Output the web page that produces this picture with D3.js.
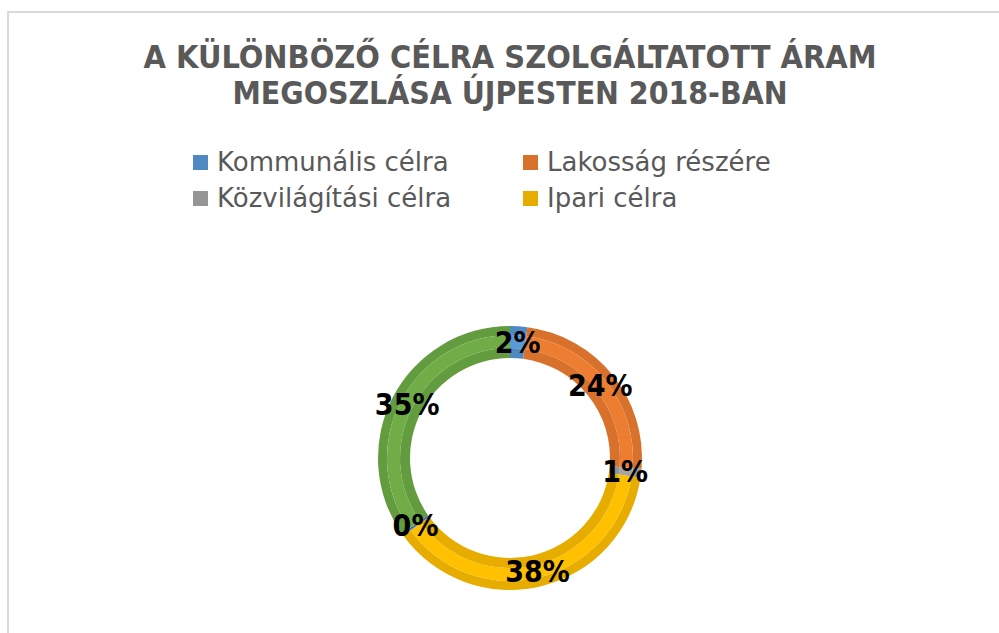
<!DOCTYPE html>
<html>
<head>
<meta charset="utf-8" />
<title>Áram megoszlása</title>
<script src="https://cdn.jsdelivr.net/npm/d3@7"></script>
<style>
  body { margin: 0; background: #fff; }
</style>
</head>
<body>
<script>
  // adatok
  var categories = ['Kommunális célra', 'Lakosság részére', 'Közvilágítási célra', 'Ipari célra', 'Egyéb célra', 'Egyéb fogyasztók'];
  var values = [2.1, 24.2, 1.1, 37.6, 0.3, 34.7];
  var lightColors = ['#5b9bd5', '#ed7d31', '#a5a5a5', '#ffc000', '#4472c4', '#70ad47'];
  var darkColors = ['#4f89c1', '#d8712c', '#959595', '#e6ac00', '#3d66b0', '#639c3f'];
  var legendItems = [0, 1, 2, 3]; // csak ennyi fér ki a jelmagyarázatba
  var titleLines = ['A KÜLÖNBÖZŐ CÉLRA SZOLGÁLTATOTT ÁRAM', 'MEGOSZLÁSA ÚJPESTEN 2018-BAN'];

  var width = 999, height = 633;
  var svg = d3.select('body').append('svg').attr('width', width).attr('height', height);

  // keret
  svg.append('rect').attr('x', 8).attr('y', 12).attr('width', 1010).attr('height', 650)
    .attr('fill', '#fff').attr('stroke', '#d9d9d9').attr('stroke-width', 2);

  // cím
  var titleWidths = [733, 555];
  svg.selectAll('text.title').data(titleLines).enter().append('text')
    .attr('class', 'title')
    .attr('x', 510)
    .attr('y', function(d, i) { return 68 + i * 36; })
    .attr('text-anchor', 'middle')
    .attr('font-family', 'DejaVu Sans Condensed, DejaVu Sans')
    .attr('font-weight', 'bold')
    .attr('font-size', 32)
    .attr('fill', '#595959')
    .attr('textLength', function(d, i) { return titleWidths[i]; })
    .attr('lengthAdjust', 'spacingAndGlyphs')
    .text(function(d) { return d; });

  // jelmagyarázat
  var legendX = d3.scaleOrdinal().domain([0, 1]).range([193, 523]);
  var legendY = d3.scaleOrdinal().domain([0, 1]).range([155, 191]);
  var legend = svg.selectAll('g.legend').data(legendItems).enter().append('g')
    .attr('class', 'legend')
    .attr('transform', function(d, i) {
      return 'translate(' + legendX(i % 2) + ',' + legendY(Math.floor(i / 2)) + ')';
    });
  legend.append('rect').attr('width', 15).attr('height', 15)
    .attr('fill', function(d) { return darkColors[d]; });
  legend.append('text')
    .attr('x', 24).attr('y', 16)
    .attr('font-family', 'DejaVu Sans')
    .attr('font-size', 26)
    .attr('fill', '#595959')
    .text(function(d) { return categories[d]; });

  // gyűrű
  var cx = 510, cy = 458;
  var rOuter = 132, rInner = 100;
  var pie = d3.pie().sort(null).value(function(d) { return d; });
  var arcs = pie(values);
  var g = svg.append('g').attr('transform', 'translate(' + cx + ',' + cy + ')');

  var bands = [
    { r0: 123, r1: rOuter, dark: true },
    { r0: 110, r1: 123, dark: false },
    { r0: rInner, r1: 110, dark: true }
  ];
  bands.forEach(function(b) {
    var arc = d3.arc().innerRadius(b.r0).outerRadius(b.r1);
    g.selectAll(null).data(arcs).enter().append('path')
      .attr('d', arc)
      .attr('fill', function(d, i) { return b.dark ? darkColors[i] : lightColors[i]; });
  });

  // címkék
  var labelArc = d3.arc().innerRadius((rOuter + rInner) / 2).outerRadius((rOuter + rInner) / 2);
  var fmt = d3.format('.0f');
  var total = d3.sum(values);
  g.selectAll('text.lbl').data(arcs).enter().append('text')
    .attr('class', 'lbl')
    .attr('transform', function(d) { return 'translate(' + labelArc.centroid(d) + ')'; })
    .attr('text-anchor', 'middle')
    .attr('dy', '0.36em')
    .attr('font-family', 'DejaVu Sans Condensed, DejaVu Sans')
    .attr('font-weight', 'bold')
    .attr('font-size', 30)
    .attr('fill', '#000')
    .text(function(d) { return fmt(d.data / total * 100) + '%'; });
</script>
</body>
</html>
